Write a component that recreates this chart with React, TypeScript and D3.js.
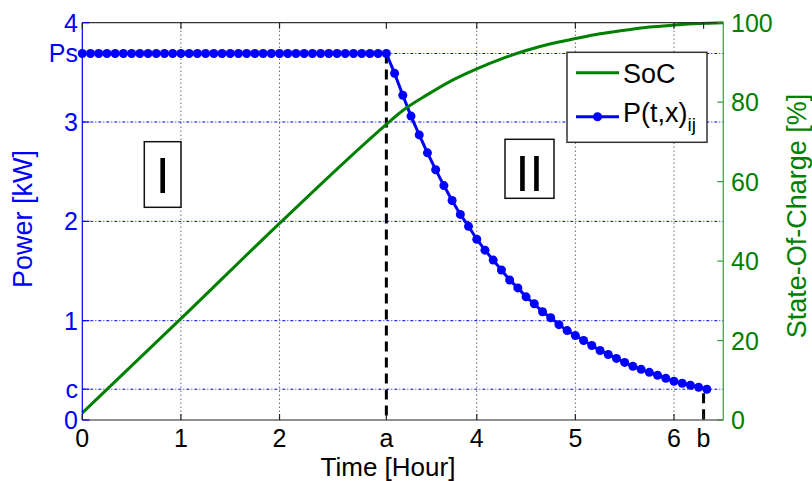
import React from "react";
import * as d3 from "d3";

// ---------- data ----------
const PS = 3.69; // kW, constant charging power
const C = 0.31; // kW, cut-off power
const A_TIME = 37 / 12; // hours, end of phase I
const B_TIME = 6.3; // hours, end of charging

const powerStepHours = 1 / 12; // 5-minute samples
const powerValues = [
  3.69, 3.69, 3.69, 3.69, 3.69, 3.69, 3.69, 3.69, 3.69, 3.69,
  3.69, 3.69, 3.69, 3.69, 3.69, 3.69, 3.69, 3.69, 3.69, 3.69,
  3.69, 3.69, 3.69, 3.69, 3.69, 3.69, 3.69, 3.69, 3.69, 3.69,
  3.69, 3.69, 3.69, 3.69, 3.69, 3.69, 3.69, 3.69,
  3.49, 3.27, 3.06, 2.87, 2.69, 2.52, 2.36, 2.21, 2.07, 1.95,
  1.82, 1.71, 1.61, 1.51, 1.41, 1.33, 1.24, 1.17, 1.09, 1.03,
  0.96, 0.90, 0.85, 0.80, 0.75, 0.70, 0.66, 0.62, 0.58, 0.54,
  0.51, 0.48, 0.45, 0.42, 0.39, 0.37, 0.35, 0.33, 0.31,
];

const socTimes = [0, 1, 2, 3, 3.083, 3.25, 3.5, 3.75, 4, 4.25, 4.5, 4.75, 5, 5.25, 5.5, 5.75, 6, 6.25, 6.5];
const socValues = [1.8, 25.5, 49.5, 72.6, 74.4, 77.9, 81.9, 85.5, 88.4, 90.9, 93.0, 94.7, 96.0, 97.2, 98.1, 98.9, 99.4, 99.8, 100];

const xTickValues = [0, 1, 2, A_TIME, 4, 5, 6, B_TIME];
const xTickLabels = ["0", "1", "2", "a", "4", "5", "6", "b"];
const xGridValues = [1, 2, 4, 5, 6];
const yTickValues = [0, C, 1, 2, 3, PS, 4];
const yTickLabels = ["0", "c", "1", "2", "3", "Ps", "4"];
const yGridValues = [C, 1, 2, 3, PS];
const socTickValues = [0, 20, 40, 60, 80, 100];

// ---------- layout ----------
const W = 812;
const H = 481;
const L = 82.3;
const R = 723.3;
const T = 22.7;
const B = 420;
const FONT = "'Liberation Sans', Arial, Helvetica, sans-serif";
const BLUE = "#0000ff";
const GREEN = "#008000";

export default function App() {
  const x = d3.scaleLinear().domain([0, 6.5]).range([L, R]);
  const y = d3.scaleLinear().domain([0, 4]).range([B, T]);
  const yS = d3.scaleLinear().domain([0, 100]).range([B, T]);

  const powerPts: [number, number][] = powerValues.map((v, i) => [i * powerStepHours, v]);
  const socPts: [number, number][] = socTimes.map((t, i) => [t, socValues[i]]);

  const powerLine = d3.line<[number, number]>().x((d) => x(d[0])).y((d) => y(d[1]));
  const socLine = d3
    .line<[number, number]>()
    .x((d) => x(d[0]))
    .y((d) => yS(d[1]))
    .curve(d3.curveMonotoneX);

  return (
    <svg
      width={W}
      height={H}
      style={{ position: "absolute", left: 0, top: 0, background: "#fff" }}
      fontFamily={FONT}
    >
      <rect x={0} y={0} width={W} height={H} fill="#fff" />
      {/* vertical grid */}
      {xGridValues.map((v) => (
        <line key={"xg" + v} x1={x(v)} x2={x(v)} y1={T} y2={B} stroke="#222" strokeWidth={1} strokeDasharray="1,3" />
      ))}
      {/* horizontal grid */}
      {yGridValues.map((v) => (
        <line key={"yg" + v} x1={L} x2={R} y1={y(v)} y2={y(v)} stroke={BLUE} strokeWidth={1} strokeDasharray="3,2,1,2" />
      ))}

      {/* phase boxes */}
      <rect x={144.3} y={141.7} width={36.7} height={65.6} fill="#fff" stroke="#111" strokeWidth={1.5} />
      <text x={162.6} y={192.7} fontSize={50} textAnchor="middle" fill="#000">I</text>
      <rect x={505} y={139.3} width={49} height={59} fill="#fff" stroke="#111" strokeWidth={1.5} />
      <text x={529.5} y={191} fontSize={50} textAnchor="middle" fill="#000">II</text>

      {/* a and b markers */}
      <line x1={x(A_TIME)} x2={x(A_TIME)} y1={y(PS)} y2={B} stroke="#000" strokeWidth={3} strokeDasharray="10,6" />
      <line x1={x(B_TIME)} x2={x(B_TIME)} y1={y(C) + 4} y2={B} stroke="#000" strokeWidth={3} strokeDasharray="10,6" />

      {/* power */}
      <path d={powerLine(powerPts) || ""} fill="none" stroke={BLUE} strokeWidth={3} />
      {powerPts.map((d, i) => (
        <circle key={"p" + i} cx={x(d[0])} cy={y(d[1])} r={4.5} fill={BLUE} />
      ))}

      {/* SoC */}
      <path d={socLine(socPts) || ""} fill="none" stroke={GREEN} strokeWidth={3} />

      {/* axes */}
      <line x1={L} x2={R} y1={T} y2={T} stroke="#333" strokeWidth={1.2} />
      <line x1={L} x2={R} y1={B} y2={B} stroke="#222" strokeWidth={1.2} />
      <line x1={L} x2={L} y1={T} y2={B} stroke={BLUE} strokeWidth={1.2} />
      <line x1={R} x2={R} y1={T} y2={B} stroke="#3a9a3a" strokeWidth={1.2} />

      {/* x ticks */}
      {xTickValues.map((v, i) => (
        <g key={"xt" + i}>
          <line x1={x(v)} x2={x(v)} y1={B} y2={B - 6} stroke="#222" strokeWidth={1.2} />
          <line x1={x(v)} x2={x(v)} y1={T} y2={T + 6} stroke="#222" strokeWidth={1.2} />
          <text x={x(v)} y={447} fontSize={25} textAnchor="middle" fill="#000">
            {xTickLabels[i]}
          </text>
        </g>
      ))}

      {/* left ticks */}
      {yTickValues.map((v, i) => (
        <g key={"yt" + i}>
          <line x1={L} x2={L + 7} y1={y(v)} y2={y(v)} stroke={BLUE} strokeWidth={1.2} />
          <text x={78} y={y(v)} dy="0.36em" fontSize={25} textAnchor="end" fill={BLUE}>
            {yTickLabels[i]}
          </text>
        </g>
      ))}

      {/* right ticks */}
      {socTickValues.map((v) => (
        <g key={"st" + v}>
          <line x1={R} x2={R - 6} y1={yS(v)} y2={yS(v)} stroke="#3a9a3a" strokeWidth={1.2} />
          <text x={731} y={yS(v)} dy="0.36em" fontSize={25} textAnchor="start" fill={GREEN}>
            {v}
          </text>
        </g>
      ))}

      {/* axis labels */}
      <text x={388} y={476} fontSize={26} textAnchor="middle" fill="#000">Time [Hour]</text>
      <text transform="translate(32,219) rotate(-90)" fontSize={27} textAnchor="middle" fill={BLUE}>Power [kW]</text>
      <text transform="translate(806,216) rotate(-90)" fontSize={27} textAnchor="middle" fill={GREEN}>State-Of-Charge [%]</text>

      {/* legend */}
      <rect x={567} y={52.3} width={140} height={90} fill="#fff" stroke="#333" strokeWidth={1.5} />
      <line x1={576} x2={619} y1={72.7} y2={72.7} stroke={GREEN} strokeWidth={3} />
      <text x={623} y={82.5} fontSize={27} fill="#000">SoC</text>
      <line x1={576} x2={619} y1={116.7} y2={116.7} stroke={BLUE} strokeWidth={3} />
      <circle cx={597.5} cy={116.7} r={4.5} fill={BLUE} />
      <text x={623} y={122} fontSize={27} fill="#000">
        P(t,x)
        <tspan fontSize={19} dy={9}>ij</tspan>
      </text>
    </svg>
  );
}
